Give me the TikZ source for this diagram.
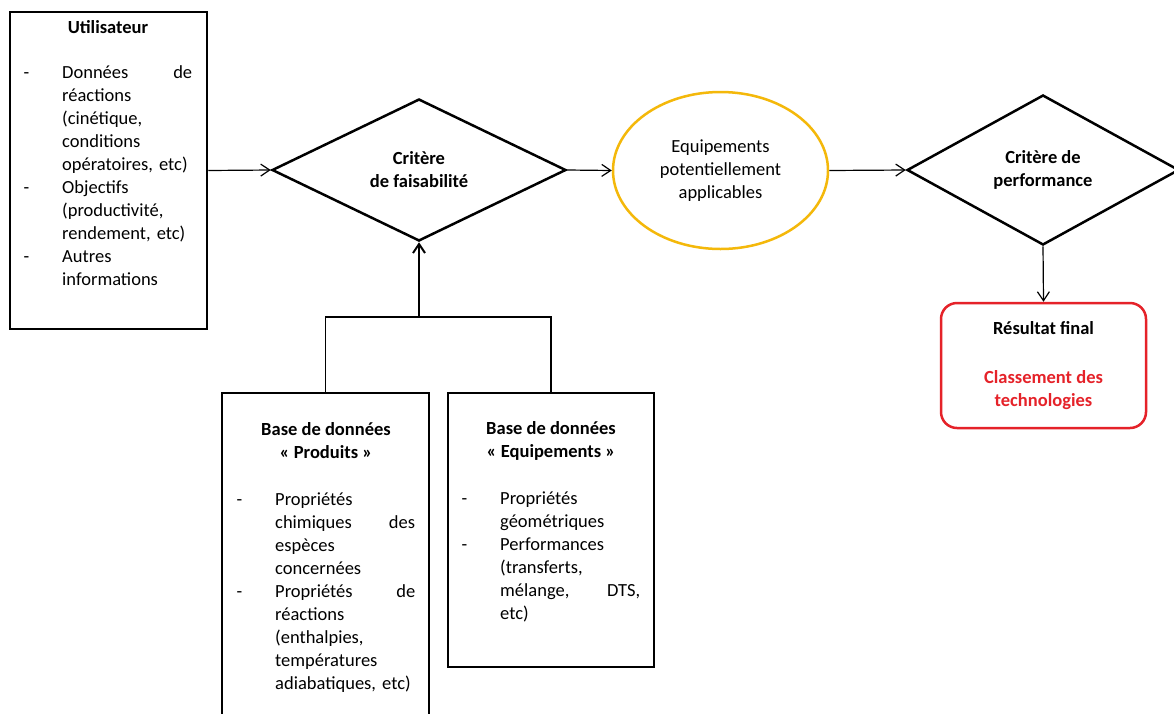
\documentclass[tikz,border=0pt]{standalone}
\usepackage{fontspec}
\setmainfont{Carlito}
\usetikzlibrary{shapes.geometric,arrows.meta}
\definecolor{gold}{RGB}{244,184,10}
\definecolor{redres}{RGB}{229,34,41}
\begin{document}
\begin{tikzpicture}[x=1pt,y=-1pt,
  font=\fontsize{18.5}{23}\selectfont,
  box/.style={draw,line width=2.5pt,inner sep=0pt},
  diam/.style={diamond,draw,line width=2.5pt,aspect=2,inner sep=0pt,align=center,
    font=\fontsize{18.5}{23}\selectfont\bfseries},
  arr/.style={-{Straight Barb[length=9pt,width=12pt]},line width=1.2pt},
  ttl/.style={inner sep=0pt,align=center,font=\fontsize{18.5}{23}\selectfont\bfseries},
  lst/.style={inner sep=0pt,align=left,anchor=north west}]
  \def\dsh{\leavevmode\llap{-\hspace{33pt}}}
  \fill[white] (0,0) rectangle (1174,713);
  \useasboundingbox (0,0) rectangle (1174,713);
  % user input
  \node[box,minimum width=197pt,minimum height=317pt] (user) at (108.5,170.5) {};
  \node[ttl,anchor=base] (usert) at (108,33) {Utilisateur};
  \node[lst,text width=130pt] (userl) at (62,62) {\noindent\strut\dsh Données\hfill de\\
    réactions\\
    (cinétique,\\
    conditions\\
    opératoires, etc)\\
    \dsh Objectifs\\
    (productivité,\\
    rendement, etc)\\
    \dsh Autres\\
    informations};
  % databases
  \node[box,minimum width=207pt,minimum height=340pt] (prod) at (325.5,563) {};
  \node[ttl,anchor=north] (prodt) at (326,419) {\strut Base de données\\« Produits »};
  \node[lst,text width=140pt] (prodl) at (275,489) {\noindent\strut\dsh Propriétés\\
    chimiques\hfill des\\
    espèces\\
    concernées\\
    \dsh Propriétés\hfill de\\
    réactions\\
    (enthalpies,\\
    températures\\
    adiabatiques, etc)};
  \node[box,minimum width=206pt,minimum height=274pt] (equip) at (551,530) {};
  \node[ttl,anchor=north] (equipt) at (551,418) {\strut Base de données\\« Equipements »};
  \node[lst,text width=140pt] (equipl) at (500,488) {\noindent\strut\dsh Propriétés\\
    géométriques\\
    \dsh Performances\\
    (transferts,\\
    mélange,\hfill DTS,\\
    etc)};
  % criteria and results
  \node[diam,minimum width=294pt,minimum height=142pt] (crit1) at (419,170) {Critère\\de faisabilité};
  \node[ellipse,draw=gold,line width=2.5pt,minimum width=215pt,minimum height=157pt,
    align=center] (pot) at (720.5,170.5) {Equipements\\potentiellement\\applicables};
  \node[diam,minimum width=272pt,minimum height=150pt] (crit2) at (1043,170) {Critère de\\performance};
  \node[draw=redres,line width=2.5pt,rounded corners=16pt,minimum width=205pt,
    minimum height=125pt,align=center] (result) at (1043.5,365.5)
    {\textbf{Résultat final}\\[26pt]\textcolor{redres}{\textbf{Classement des}}\\
     \textcolor{redres}{\textbf{technologies}}};
  % connectors
  \draw[arr] (user.east) -- (crit1.west);
  \draw[arr] (crit1.east) -- (pot.west);
  \draw[arr] (pot.east) -- (crit2.west);
  \draw[arr] (crit2.south) -- (result.north);
  \coordinate (join) at (419,317);
  \draw[line width=1.2pt] (prod.north) -- (prod.north |- join) -| (equip.north);
  \draw[arr,line width=2pt] (join) -- (crit1.south);
\end{tikzpicture}
\end{document}
